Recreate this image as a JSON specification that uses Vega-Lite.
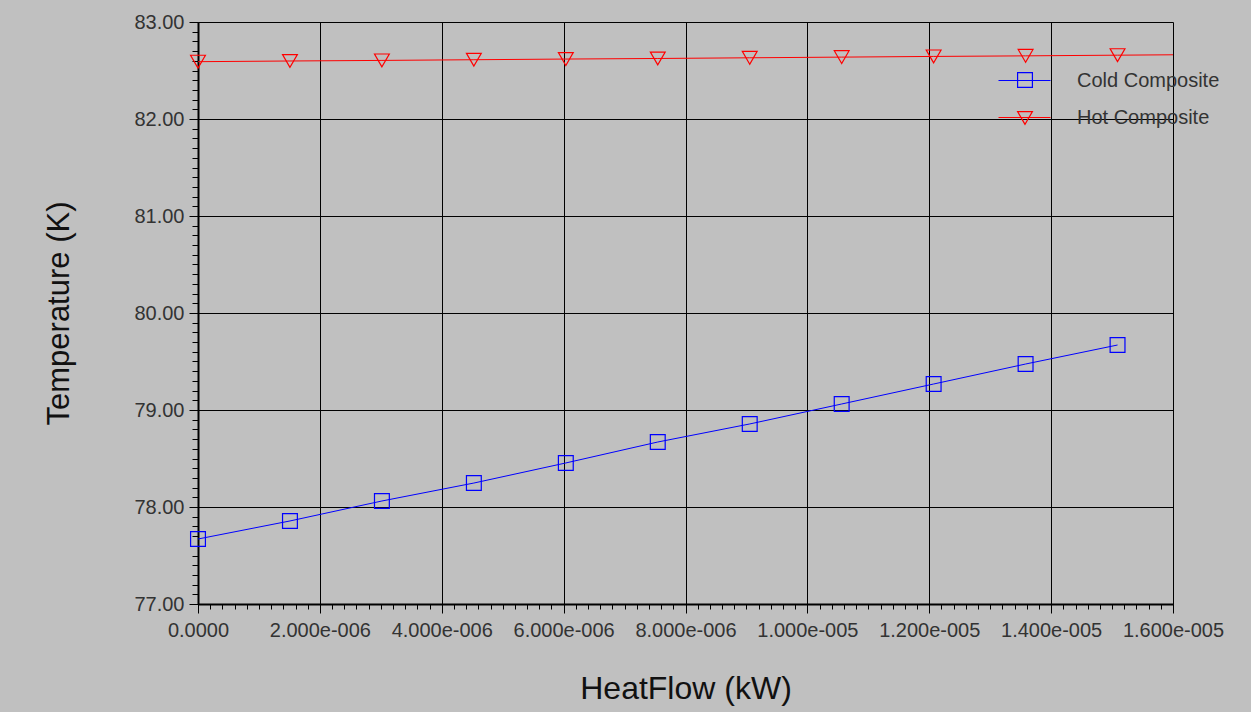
{
  "$schema": "https://vega.github.io/schema/vega-lite/v6.json",
  "width": 975,
  "height": 582,
  "autosize": {"type": "none"},
  "padding": {"left": 198, "top": 22, "right": 78, "bottom": 108},
  "background": "#c0c0c0",
  "config": {"view": {"stroke": null}, "font": "Liberation Sans"},
  "data": {
    "values": [
      {"series": "Cold Composite", "heatflow": 0, "temperature": 77.67},
      {"series": "Cold Composite", "heatflow": 1.509e-6, "temperature": 77.856},
      {"series": "Cold Composite", "heatflow": 3.018e-6, "temperature": 78.062},
      {"series": "Cold Composite", "heatflow": 4.527e-6, "temperature": 78.247},
      {"series": "Cold Composite", "heatflow": 6.036e-6, "temperature": 78.454},
      {"series": "Cold Composite", "heatflow": 7.545e-6, "temperature": 78.67},
      {"series": "Cold Composite", "heatflow": 9.054e-6, "temperature": 78.856},
      {"series": "Cold Composite", "heatflow": 1.0563e-5, "temperature": 79.062},
      {"series": "Cold Composite", "heatflow": 1.2072e-5, "temperature": 79.268},
      {"series": "Cold Composite", "heatflow": 1.3581e-5, "temperature": 79.474},
      {"series": "Cold Composite", "heatflow": 1.509e-5, "temperature": 79.67},
      {"series": "Hot Composite", "heatflow": 0, "temperature": 82.591},
      {"series": "Hot Composite", "heatflow": 1.509e-6, "temperature": 82.598},
      {"series": "Hot Composite", "heatflow": 3.018e-6, "temperature": 82.604},
      {"series": "Hot Composite", "heatflow": 4.527e-6, "temperature": 82.611},
      {"series": "Hot Composite", "heatflow": 6.036e-6, "temperature": 82.618},
      {"series": "Hot Composite", "heatflow": 7.545e-6, "temperature": 82.624},
      {"series": "Hot Composite", "heatflow": 9.054e-6, "temperature": 82.631},
      {"series": "Hot Composite", "heatflow": 1.0563e-5, "temperature": 82.638},
      {"series": "Hot Composite", "heatflow": 1.2072e-5, "temperature": 82.645},
      {"series": "Hot Composite", "heatflow": 1.3581e-5, "temperature": 82.651},
      {"series": "Hot Composite", "heatflow": 1.509e-5, "temperature": 82.658},
      {"series": "Hot Composite", "heatflow": 1.6e-5, "temperature": 82.662}
    ]
  },
  "layer": [
    {
      "mark": {"type": "line", "strokeWidth": 1},
      "encoding": {
        "x": {
          "field": "heatflow", "type": "quantitative",
          "scale": {"domain": [0, 1.6e-5], "nice": false, "zero": false},
          "axis": {
            "orient": "bottom",
            "values": [0, 2e-6, 4e-6, 6e-6, 8e-6, 1e-5, 1.2e-5, 1.4e-5, 1.6e-5],
            "labelExpr": "datum.value == 0 ? '0.0000' : replace(format(datum.value, '.3e'), 'e-', 'e-00')",
            "grid": true, "gridColor": "#000000", "gridOpacity": 1, "gridWidth": 1,
            "domainColor": "#000000", "domainWidth": 2,
            "tickColor": "#000000", "tickSize": 9, "tickWidth": 1,
            "labelFontSize": 20, "labelColor": "#333333", "labelPadding": 7,
            "labelFlush": false, "labelOverlap": false,
            "title": "HeatFlow (kW)", "titleFontSize": 32, "titleFontWeight": "normal",
            "titleColor": "#111111", "titlePadding": 33
          }
        },
        "y": {
          "field": "temperature", "type": "quantitative",
          "scale": {"domain": [77, 83], "nice": false, "zero": false},
          "axis": {
            "orient": "left",
            "values": [77, 78, 79, 80, 81, 82, 83],
            "format": ".2f",
            "grid": true, "gridColor": "#000000", "gridOpacity": 1, "gridWidth": 1,
            "domainColor": "#000000", "domainWidth": 2,
            "tickColor": "#000000", "tickSize": 9, "tickWidth": 1,
            "labelFontSize": 20, "labelColor": "#333333", "labelPadding": 5,
            "labelFlush": false, "labelOverlap": false,
            "title": "Temperature (K)", "titleFontSize": 31, "titleFontWeight": "normal",
            "titleColor": "#111111", "titlePadding": 58
          }
        },
        "color": {
          "field": "series", "type": "nominal",
          "scale": {"range": ["#0000ff", "#ff0000"]},
          "legend": {
            "orient": "none", "legendX": 800, "legendY": 32,
            "title": null, "padding": 0,
            "symbolType": "stroke", "symbolSize": 2704, "symbolStrokeWidth": 1,
            "labelFontSize": 20, "labelColor": "#333333", "labelOffset": 26,
            "rowPadding": 0
          }
        }
      }
    },
    {
      "transform": [{"filter": "datum.heatflow < 1.55e-5"}],
      "mark": {"type": "point", "filled": false, "strokeWidth": 1.2, "size": 220, "opacity": 1},
      "encoding": {
        "x": {
          "field": "heatflow", "type": "quantitative",
          "axis": {
            "orient": "bottom", "tickCount": 80, "labels": false, "grid": false,
            "domain": false, "tickColor": "#000000", "tickSize": 5, "tickWidth": 1, "title": null
          }
        },
        "y": {
          "field": "temperature", "type": "quantitative",
          "axis": {
            "orient": "left", "tickCount": 60, "labels": false, "grid": false,
            "domain": false, "tickColor": "#000000", "tickSize": 6, "tickWidth": 1, "title": null
          }
        },
        "stroke": {
          "field": "series", "type": "nominal",
          "scale": {"domain": ["Cold Composite", "Hot Composite"], "range": ["#0000ff", "#ff0000"]},
          "legend": {
            "orient": "none", "legendX": 817, "legendY": 48,
            "title": null, "padding": 0,
            "symbolSize": 220, "symbolStrokeWidth": 1.2,
            "labelExpr": "''", "labelFontSize": 20, "rowPadding": 18
          }
        },
        "shape": {
          "field": "series", "type": "nominal",
          "scale": {"domain": ["Cold Composite", "Hot Composite"], "range": ["square", "triangle-down"]},
          "legend": {
            "orient": "none", "legendX": 817, "legendY": 48,
            "title": null, "padding": 0,
            "symbolSize": 220, "symbolStrokeWidth": 1.2,
            "labelExpr": "''", "labelFontSize": 20, "rowPadding": 18
          }
        }
      }
    }
  ],
  "resolve": {"axis": {"x": "independent", "y": "independent"}}
}
